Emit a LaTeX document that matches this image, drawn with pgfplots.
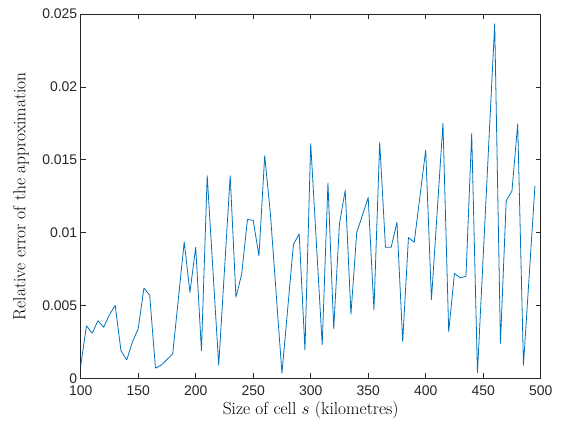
\documentclass[border=0pt]{standalone}
\usepackage{fontspec}
\usepackage{pgfplots}
\pgfplotsset{compat=1.18}
\newfontfamily\ticksfont{Liberation Sans}
\definecolor{mblue}{rgb}{0,0.447,0.741}
\definecolor{axgray}{rgb}{0.15,0.15,0.15}
\begin{document}
\begin{tikzpicture}
\useasboundingbox (-80.7bp,-46.7bp) rectangle (482.3bp,378.3bp);
\begin{axis}[
  at={(0,0)}, anchor=south west,
  scale only axis, width=460bp, height=364.3bp,
  xmin=100, xmax=500, ymin=0, ymax=0.025,
  xtick={100,150,...,500},
  ytick={0,0.005,0.01,0.015,0.02,0.025},
  yticklabels={0,0.005,0.01,0.015,0.02,0.025},
  tick align=inside, major tick length=5bp,
  axis line style={axgray, line width=0.6pt},
  every tick/.style={axgray, line width=0.6pt},
  tick label style={font=\ticksfont\fontsize{14}{16}\selectfont, text=axgray},
  xticklabel style={yshift=-4bp},
  /pgf/number format/assume math mode=true,
  scaled y ticks=false,
  xlabel={Size of cell $s$ (kilometres)},
  ylabel={Relative error of the approximation},
  label style={font=\fontsize{17.5}{20}\selectfont},
  xlabel style={at={(axis description cs:0.5,-0.087)}, anchor=center},
  ylabel style={at={(axis description cs:-0.130,0.5)}, anchor=center},
]
\addplot[mblue, line width=0.8pt, line join=round] coordinates {
(100,0.00085) (105,0.0036) (110,0.0031) (115,0.00395) (120,0.0035)
(125,0.00436) (130,0.0050) (135,0.0019) (140,0.00126) (145,0.0025)
(150,0.0034) (155,0.0062) (160,0.0057) (165,0.0007) (170,0.0009)
(180,0.00167) (190,0.00935) (195,0.0059) (200,0.0090) (205,0.0019)
(210,0.0139) (220,0.0009) (230,0.0139) (235,0.00556) (240,0.00716)
(245,0.0109) (250,0.01084) (255,0.0084) (260,0.01527) (265,0.01125)
(275,0.00034) (285,0.0092) (290,0.0099) (295,0.00195) (300,0.0161)
(310,0.0023) (315,0.0134) (320,0.0034) (325,0.0106) (330,0.0129)
(335,0.0044) (340,0.0100) (350,0.0124) (355,0.0047) (360,0.0162)
(365,0.0090) (370,0.0090) (375,0.0107) (380,0.00253) (385,0.00966)
(390,0.00934) (400,0.01566) (405,0.0054) (415,0.0175) (420,0.0032)
(425,0.0072) (430,0.0069) (435,0.0070) (440,0.0168) (445,0.0004)
(460,0.02433) (465,0.0024) (470,0.0122) (475,0.01285) (480,0.01745)
(485,0.0009) (495,0.0132)
};
\end{axis}
\end{tikzpicture}
\end{document}
